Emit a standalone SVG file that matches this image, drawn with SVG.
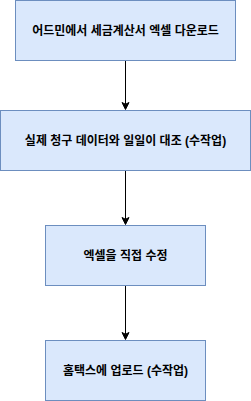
<svg xmlns="http://www.w3.org/2000/svg" width="251" height="401" viewBox="0 0 251 401">
<style>
.box{fill:#dae8fc;stroke:#6c8ebf;stroke-width:1}
.lbl{font-family:"Liberation Sans","Noto Sans CJK KR",sans-serif;font-size:12px;font-weight:bold;fill:#000;text-anchor:middle;dominant-baseline:central}
.edge{stroke:#000;stroke-width:1;fill:none}
.head{fill:#000;stroke:#000;stroke-width:1}
</style>
<rect width="251" height="401" fill="#fff"/>
<g id="edges">
<path class="edge" d="M125.5 60.5V104"/>
<path class="head" d="M125.5 109.5l-3.5-7l3.5 1.75l3.5-1.75z"/>
<path class="edge" d="M125.5 170.5V219"/>
<path class="head" d="M125.5 224.5l-3.5-7l3.5 1.75l3.5-1.75z"/>
<path class="edge" d="M125.5 285.5V334"/>
<path class="head" d="M125.5 339.5l-3.5-7l3.5 1.75l3.5-1.75z"/>
</g>
<g id="n1"><rect class="box" x="15.5" y="0.5" width="220" height="60"/><text class="lbl" x="125.5" y="30.5">어드민에서 세금계산서 엑셀 다운로드</text></g>
<g id="n2"><rect class="box" x="0.5" y="110.5" width="250" height="60"/><text class="lbl" x="125.5" y="140.5">실제 청구 데이터와 일일이 대조 (수작업)</text></g>
<g id="n3"><rect class="box" x="45.5" y="225.5" width="160" height="60"/><text class="lbl" x="125.5" y="255.5">엑셀을 직접 수정</text></g>
<g id="n4"><rect class="box" x="45.5" y="340.5" width="160" height="60"/><text class="lbl" x="125.5" y="370.5">홈택스에 업로드 (수작업)</text></g>
</svg>
